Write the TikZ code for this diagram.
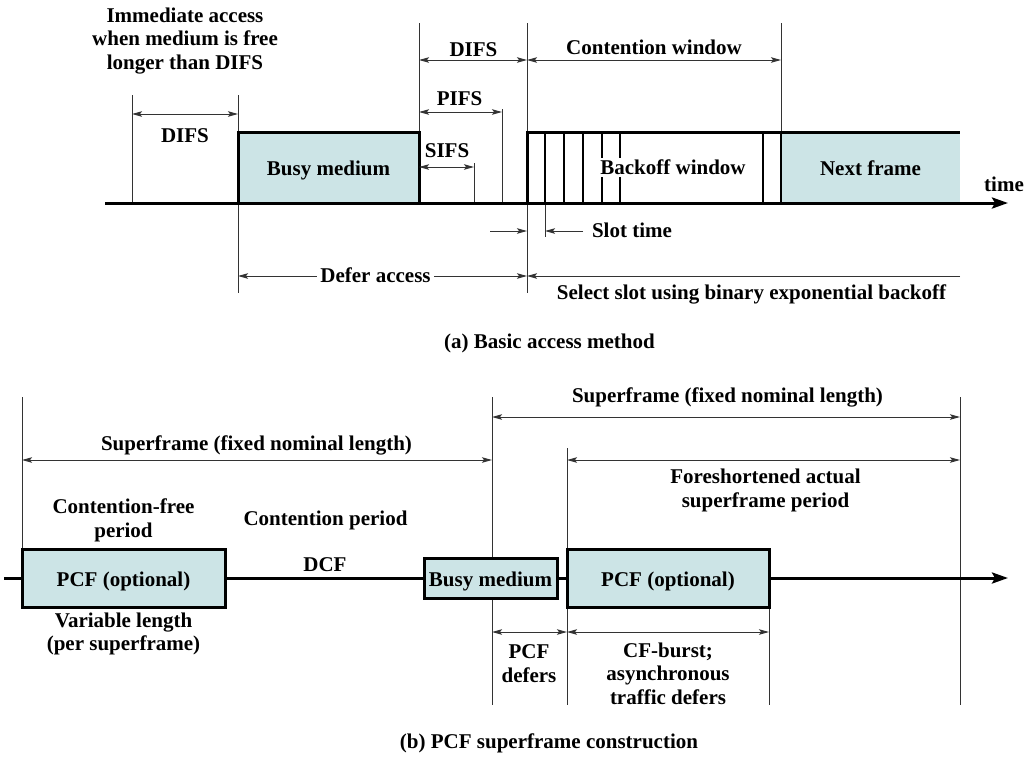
\documentclass[tikz,border=0pt]{standalone}
\usepackage{fontspec}
\setmainfont{Liberation Serif}
\usepackage{xcolor}
\usetikzlibrary{arrows.meta}
\definecolor{framefill}{RGB}{204,228,230}

\begin{document}
\begin{tikzpicture}[
        x=1pt, y=-1pt,
        every node/.style={font=\fontsize{21}{23.5}\selectfont\bfseries, inner sep=0pt, align=center},
        guide/.style={line width=1pt, black!80},
        dimline/.style={guide, {Stealth[length=10pt, width=5.5pt, inset=2pt]}-{Stealth[length=10pt, width=5.5pt, inset=2pt]}},
        halfdim/.style={guide, -{Stealth[length=10pt, width=5.5pt, inset=2pt]}},
        timeline/.style={line width=3pt, -{Stealth[length=16pt, width=11pt, inset=3pt]}},
        medbox/.style={rectangle, fill=framefill, text height=16pt, text depth=0pt},
        slotline/.style={line width=2.5pt},
    ]
        \useasboundingbox (0,0) rectangle (1033,756);

        % (a) Basic access method
        \foreach \x/\ya/\yb in {132/95/203, 238/95/293, 419/23/203, 474/163/203, 502/109/203, 527/23/293, 545/203/237, 781/23/132}
            \draw[guide] (\x,\ya) -- (\x,\yb);

        % Nodes
        \node[medbox, draw, line width=3pt, minimum width=181, minimum height=71] (busya) at (328.5,167.5) {Busy medium};
        \node[medbox, minimum width=179, minimum height=71] (next) at (870.5,167.5) {Next frame};
        \draw[line width=3pt] (527,203) -- (527,132) -- (960,132);
        \foreach \x in {545,564,583,602,620,763,781}
            \draw[slotline] (\x,132) -- (\x,203);
        \node[fill=white, inner sep=2pt] (backoff) at (673,167) {Backoff window};
        \draw[timeline] (105,203) -- (1008,203);

        \node (immediate) at (185,41) {Immediate access\\when medium is free\\longer than DIFS};
        \node (time) at (1004,184) {time};

        % Arrows
        \draw[dimline] (132,114) -- (238,114);
        \node (difsa) at (185,136) {DIFS};
        \draw[dimline] (419,60) -- (527,60);
        \node (difsb) at (473.5,49.5) {DIFS};
        \draw[dimline] (527,60) -- (781,60);
        \node (cwindow) at (654,47) {Contention window};
        \draw[dimline] (419,112) -- (502,112);
        \node (pifs) at (459.5,98.5) {PIFS};
        \draw[dimline] (419,167) -- (474,167);
        \node (sifs) at (447,151) {SIFS};
        \draw[halfdim] (490,231) -- (527,231);
        \draw[halfdim] (583,231) -- (545,231);
        \node (slottime) at (632,230) {Slot time};
        \draw[dimline] (238,276) -- (527,276);
        \node[fill=white, inner xsep=3pt] (defer) at (375.5,275.5) {Defer access};
        \draw[halfdim] (960,276) -- (527,276);
        \node (select) at (751.5,294) {Select slot using binary exponential backoff};

        \node (capa) at (549.5,343.5) {(a) Basic access method};

        % (b) PCF superframe construction
        \foreach \x/\ya/\yb in {22/397/549, 492/397/705, 567/448/705, 769/607/705, 960/397/705}
            \draw[guide] (\x,\ya) -- (\x,\yb);
        \draw[timeline] (4,578) -- (1008,578);

        % Nodes
        \node[medbox, draw, line width=3pt, minimum width=203, minimum height=58] (pcfa) at (123.5,578) {PCF (optional)};
        \node[medbox, draw, line width=3pt, minimum width=133, minimum height=40] (busyb) at (490.5,578) {Busy medium};
        \node[medbox, draw, line width=3pt, minimum width=202, minimum height=58] (pcfb) at (668,578) {PCF (optional)};

        \node (cfree) at (123.5,520.5) {Contention-free\\period};
        \node (cperiod) at (325.5,520) {Contention period};
        \node (dcf) at (325,565) {DCF};
        \node (varlen) at (123.5,634) {Variable length\\(per superframe)};

        % Arrows
        \draw[dimline] (22,460) -- (492,460);
        \node (supera) at (256.5,445) {Superframe (fixed nominal length)};
        \draw[dimline] (492,417) -- (960,417);
        \node (superb) at (727.5,397.5) {Superframe (fixed nominal length)};
        \draw[dimline] (567,460) -- (960,460);
        \node (foreshort) at (765.5,490.5) {Foreshortened actual\\superframe period};
        \draw[dimline] (492,632) -- (567,632);
        \node (pcfdefer) at (529,663.5) {PCF\\defers};
        \draw[dimline] (567,632) -- (769,632);
        \node (cfburst) at (668,673.5) {CF-burst;\\asynchronous\\traffic defers};

        \node (capb) at (549,743.5) {(b) PCF superframe construction};

    \end{tikzpicture}
\end{document}
